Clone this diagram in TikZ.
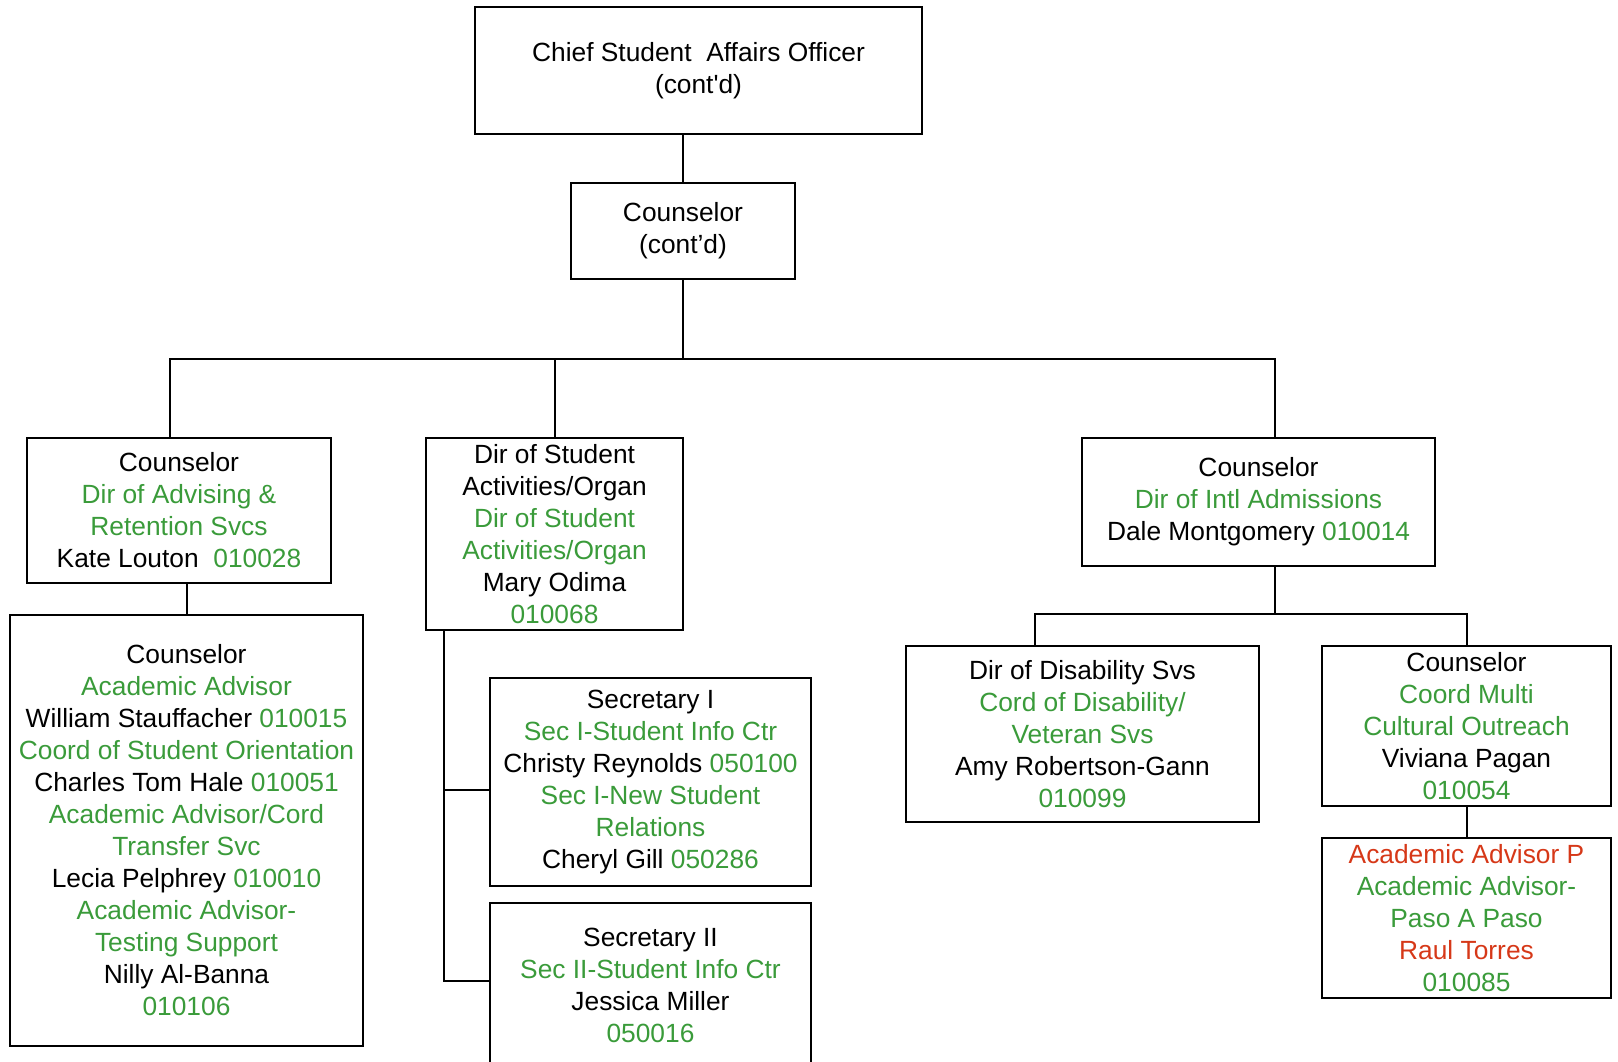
\documentclass[tikz,border=0pt]{standalone}
\usepackage{fontspec}
\setmainfont{Liberation Sans}
\usepackage{tikz}
\usetikzlibrary{positioning}
\definecolor{titlegreen}{RGB}{58,155,58}
\definecolor{vacantred}{RGB}{214,56,24}
\newcommand{\gn}[1]{\textcolor{titlegreen}{#1}}
\newcommand{\rd}[1]{\textcolor{vacantred}{#1}}

\begin{document}
\begin{tikzpicture}[x=0.75pt,y=-0.75pt]
\tikzstyle{post}=[rectangle, draw=black, line width=2pt, align=center, inner sep=0pt, font=\fontsize{19.75}{24}\selectfont]
\tikzstyle{connect}=[line width=1.5pt]
\useasboundingbox (0,0) rectangle (1618,1061);
\node[post, minimum width=335.25pt, minimum height=95.25pt] (cso) at (698.5,70.5) {\raisebox{-3pt}{Chief Student\ \ Affairs Officer}\\\raisebox{-3pt}{(cont\textquotesingle d)}};
\node[post, minimum width=168pt, minimum height=72pt] (cns) at (683,231) {Counselor\\(cont’d)};
\node[post, minimum width=228pt, minimum height=108.75pt] (adv) at (179,510.5) {Counselor\\\gn{Dir of Advising \&}\\\gn{Retention Svcs}\\Kate Louton\ \ \gn{010028}};
\node[post, minimum width=192.75pt, minimum height=144pt] (act) at (554.5,534) {Dir of Student\\Activities/Organ\\\gn{Dir of Student}\\\gn{Activities/Organ}\\Mary Odima\\\gn{010068}};
\node[post, minimum width=264.75pt, minimum height=96pt] (intl) at (1258.5,502) {Counselor\\\gn{Dir of Intl Admissions}\\Dale Montgomery \gn{010014}};
\node[post, minimum width=264.75pt, minimum height=323.25pt] (acad) at (186.5,830.5) {Counselor\\\gn{Academic Advisor}\\William Stauffacher \gn{010015}\\\gn{Coord of Student Orientation}\\Charles Tom Hale \gn{010051}\\\gn{Academic Advisor/Cord}\\\gn{Transfer Svc}\\Lecia Pelphrey \gn{010010}\\\gn{Academic Advisor-}\\\gn{Testing Support}\\Nilly Al-Banna\\\gn{010106}};
\node[post, minimum width=240.75pt, minimum height=156pt] (sec1) at (650.5,782) {Secretary I\\\gn{Sec I-Student Info Ctr}\\Christy Reynolds \gn{050100}\\\gn{Sec I-New Student}\\\gn{Relations}\\Cheryl Gill \gn{050286}};
\node[post, minimum width=240.75pt, minimum height=123.75pt] (sec2) at (650.5,985.5) {Secretary II\\\gn{Sec II-Student Info Ctr}\\Jessica Miller\\\gn{050016}};
\node[post, minimum width=264.75pt, minimum height=132pt] (dis) at (1082.5,734) {Dir of Disability Svs\\\gn{Cord of Disability/}\\\gn{Veteran Svs}\\Amy Robertson-Gann\\\gn{010099}};
\node[post, minimum width=216.75pt, minimum height=120pt] (multi) at (1466.5,726) {Counselor\\\gn{Coord Multi}\\\gn{Cultural Outreach}\\Viviana Pagan\\\gn{010054}};
\node[post, minimum width=216.75pt, minimum height=120pt] (paso) at (1466.5,918) {\rd{Academic Advisor P}\\\gn{Academic Advisor-}\\\gn{Paso A Paso}\\\rd{Raul Torres}\\\gn{010085}};
\coordinate (bus) at (683,359);
\coordinate (spine) at (444,790);
\coordinate (sub) at (1275,614);
\path (cns.north) edge [connect] (cns.north |- cso.south);
\path (cns.south) edge [connect] (bus);
\draw[connect] (adv.north -| 170,0) |- (bus) -| (intl.north -| 1275,0);
\path (act.north) edge [connect] (act.north |- bus);
\path (acad.north) edge [connect] (acad.north |- adv.south);
\draw[connect] (act.south -| spine) |- (sec2.west |- 0,981);
\path (spine) edge [connect] (sec1.west |- spine);
\path (intl.south -| sub) edge [connect] (sub);
\draw[connect] (dis.north -| 1035,0) |- (sub) -| (multi.north);
\path (multi.south) edge [connect] (paso.north);
\end{tikzpicture}
\end{document}
